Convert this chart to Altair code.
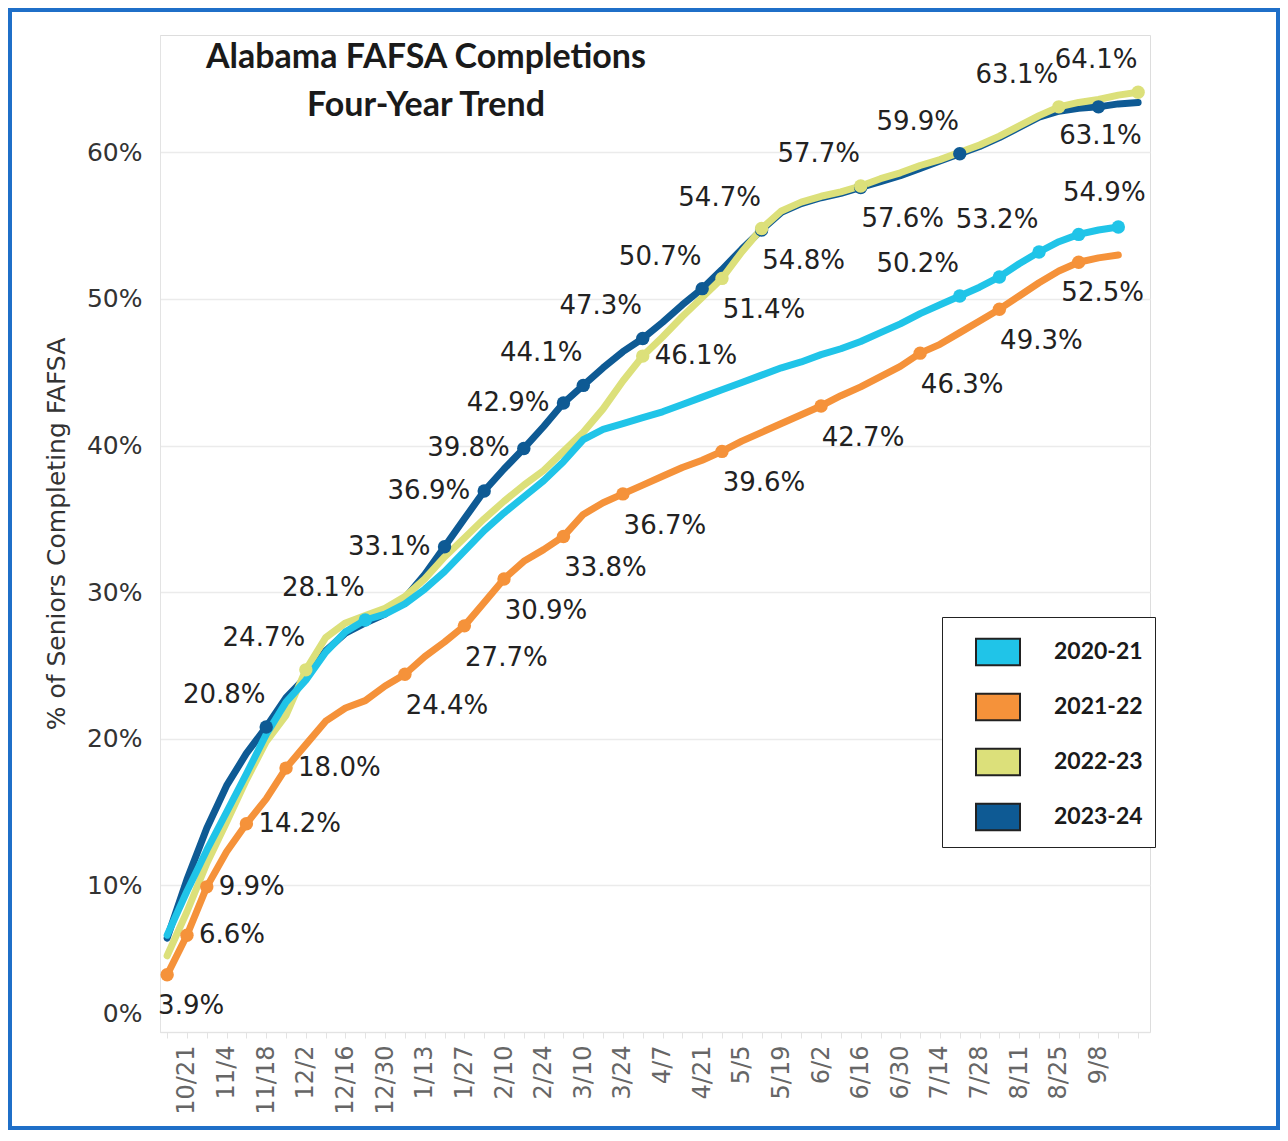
import altair as alt
import pandas as pd

# ---------------- data ----------------
series_names = ["2020-21", "2021-22", "2022-23", "2023-24"]
series_colors = ["#20C4E8", "#F5923A", "#DCE07A", "#0E5A94"]
draw_order = ["2023-24", "2022-23", "2021-22", "2020-21"]

# x axis: week index, week 0 = 10/14; labels every two weeks
tick_weeks = [1, 3, 5, 7, 9, 11, 13, 15, 17, 19, 21, 23, 25, 27, 29, 31, 33, 35, 37, 39, 41, 43, 45, 47]
tick_labels = ["10/21", "11/4", "11/18", "12/2", "12/16", "12/30", "1/13", "1/27", "2/10", "2/24",
               "3/10", "3/24", "4/7", "4/21", "5/5", "5/19", "6/2", "6/16", "6/30", "7/14",
               "7/28", "8/11", "8/25", "9/8"]
y_ticks = [0, 10, 20, 30, 40, 50, 60]

pct_2020_21 = [6.6, 9.6, 12.4, 15.0, 17.6, 20.3, 22.5, 24.0, 25.9, 27.3,
               28.1, 28.5, 29.2, 30.2, 31.4, 32.8, 34.2, 35.4, 36.5, 37.6,
               38.9, 40.4, 41.1, 41.5, 41.9, 42.3, 42.8, 43.3, 43.8, 44.3,
               44.8, 45.3, 45.7, 46.2, 46.6, 47.1, 47.7, 48.3, 49.0, 49.6,
               50.2, 50.8, 51.5, 52.4, 53.2, 53.9, 54.4, 54.7, 54.9]
pct_2021_22 = [3.9, 6.6, 9.9, 12.3, 14.2, 15.9, 18.0, 19.6, 21.2, 22.1,
               22.6, 23.6, 24.4, 25.6, 26.6, 27.7, 29.3, 30.9, 32.1, 32.9,
               33.8, 35.3, 36.1, 36.7, 37.3, 37.9, 38.5, 39.0, 39.6, 40.3,
               40.9, 41.5, 42.1, 42.7, 43.4, 44.0, 44.7, 45.4, 46.3, 46.9,
               47.7, 48.5, 49.3, 50.2, 51.1, 51.9, 52.5, 52.8, 53.0]
pct_2022_23 = [5.2, 8.2, 11.5, 14.3, 17.2, 19.8, 21.6, 24.7, 26.9, 27.9,
               28.4, 28.9, 29.7, 30.9, 32.4, 33.7, 35.0, 36.2, 37.3, 38.3,
               39.6, 40.9, 42.5, 44.4, 46.1, 47.4, 48.8, 50.1, 51.4, 53.2,
               54.8, 56.0, 56.6, 57.0, 57.3, 57.7, 58.2, 58.6, 59.1, 59.5,
               60.0, 60.5, 61.1, 61.8, 62.5, 63.1, 63.4, 63.6, 63.9, 64.1]
pct_2023_24 = [6.4, 10.4, 13.9, 16.8, 19.0, 20.8, 22.8, 24.2, 26.0, 27.2,
               27.9, 28.5, 29.6, 31.2, 33.1, 35.0, 36.9, 38.4, 39.8, 41.3,
               42.9, 44.1, 45.3, 46.4, 47.3, 48.4, 49.6, 50.7, 52.0, 53.4,
               54.7, 55.9, 56.5, 56.9, 57.2, 57.6, 58.0, 58.4, 58.9, 59.4,
               59.9, 60.4, 61.0, 61.7, 62.4, 62.8, 63.0, 63.1, 63.3, 63.4]

# labelled points (series, week index), grouped by where the label sits
label_groups = {
    "above_left": [("2023-24", 5), ("2023-24", 21), ("2023-24", 24), ("2023-24", 27),
                   ("2023-24", 30), ("2023-24", 40), ("2022-23", 7), ("2022-23", 35),
                   ("2022-23", 45), ("2022-23", 49), ("2020-21", 10), ("2020-21", 40),
                   ("2020-21", 44)],
    "above": [("2020-21", 48)],
    "left": [("2023-24", 14), ("2023-24", 16), ("2023-24", 18), ("2023-24", 20)],
    "right": [("2021-22", 1), ("2021-22", 2), ("2021-22", 4), ("2021-22", 6), ("2022-23", 24)],
    "below_right": [("2021-22", 12), ("2021-22", 15), ("2021-22", 17), ("2021-22", 20),
                    ("2021-22", 23), ("2021-22", 28), ("2021-22", 33), ("2021-22", 38),
                    ("2021-22", 42), ("2022-23", 28), ("2022-23", 30), ("2023-24", 35)],
    "below_right_small": [("2021-22", 0), ("2021-22", 46)],
    "below": [("2023-24", 47)],
}
extra_dots = [("2020-21", 42), ("2020-21", 46)]

# ---------------- tables ----------------
rows = []
for name, vals in zip(series_names, [pct_2020_21, pct_2021_22, pct_2022_23, pct_2023_24]):
    for w, v in enumerate(vals):
        rows.append({"series": name, "week": w, "pct": v})
df = pd.DataFrame(rows)
lookup = {(r.series, r.week): r.pct for r in df.itertuples()}

dot_keys = [k for g in label_groups.values() for k in g] + extra_dots
dot_keys.sort(key=lambda k: draw_order.index(k[0]))
dots = pd.DataFrame([{"series": s, "week": w, "pct": lookup[(s, w)]} for s, w in dot_keys])

# ---------------- styling ----------------
placement = {
    "above_left": dict(dx=-42, dy=-32, align="center"),
    "above": dict(dx=-14, dy=-34, align="center"),
    "left": dict(dx=-14, dy=0, align="right"),
    "right": dict(dx=12, dy=0, align="left"),
    "below_right": dict(dx=42, dy=32, align="center"),
    "below_right_small": dict(dx=24, dy=31, align="center"),
    "below": dict(dx=2, dy=29, align="center"),
}

week_label_array = [""] * 50
for w, lab in zip(tick_weeks, tick_labels):
    week_label_array[w] = lab
label_expr = "[" + ",".join("'" + s + "'" for s in week_label_array) + "][datum.value] || ''"

color_scale = alt.Scale(domain=series_names, range=series_colors)

x_axis = alt.Axis(
    values=list(range(50)), labelExpr=label_expr, labelAngle=270, labelOverlap=False,
    labelFont="DejaVu Sans", labelFontSize=24, labelColor="#666666", labelPadding=7,
    ticks=True, tickColor="#e3e3e3", tickSize=6, domainColor="#e3e3e3", grid=False, title=None,
)
y_axis = alt.Axis(
    values=y_ticks, labelExpr="datum.value + '%'", grid=True, gridColor="#ebebeb", gridWidth=1.5,
    ticks=False, domain=True, domainColor="#e3e3e3",
    labelFont="DejaVu Sans", labelFontSize=25, labelColor="#333333", labelPadding=18,
    labelOffset={"condition": {"test": "datum.value === 0", "value": -19}, "value": 0},
    title="% of Seniors Completing FAFSA", titleFont="DejaVu Sans", titleFontSize=25,
    titleFontWeight="normal", titleColor="#333333", titlePadding=17,
)
x_enc = alt.X("week:Q", scale=alt.Scale(domain=[-0.36, 49.6], nice=False, zero=False), axis=x_axis)
y_enc = alt.Y("pct:Q", scale=alt.Scale(domain=[0, 68], nice=False, zero=True), axis=y_axis)

layers = []

frame = alt.Chart(alt.Data(values=[{"f": 1}])).mark_rect(
    filled=False, stroke="#1F6FC8", strokeWidth=4
).encode(x=alt.value(-150), x2=alt.value(1118), y=alt.value(-25), y2=alt.value(1093))
layers.append(frame)

for s in draw_order:
    layers.append(
        alt.Chart(df[df["series"] == s]).mark_line(
            strokeWidth=7, strokeCap="round", strokeJoin="round",
            color=series_colors[series_names.index(s)]
        ).encode(x=x_enc, y=y_enc)
    )

legend = alt.Legend(
    title=None, orient="none", legendX=782, legendY=582, direction="vertical",
    symbolType="M-1,-0.6H1V0.6H-1Z", symbolSize=1936, symbolStrokeColor="#222222",
    symbolStrokeWidth=2, symbolOpacity=1, symbolOffset=21,
    labelFont="Lato", labelFontSize=23, labelFontWeight="bold", labelColor="#1a1a1a",
    labelOffset=33, padding=12, rowPadding=14, strokeColor="#222222", fillColor="white",
)
layers.append(
    alt.Chart(dots).mark_circle(size=180, opacity=1).encode(
        x=x_enc, y=y_enc, color=alt.Color("series:N", scale=color_scale, legend=legend)
    )
)

for g, keys in label_groups.items():
    t = pd.DataFrame([{"series": s, "week": w, "pct": lookup[(s, w)],
                       "label": f"{lookup[(s, w)]:.1f}%"} for s, w in keys])
    p = placement[g]
    layers.append(
        alt.Chart(t).mark_text(
            font="DejaVu Sans", fontSize=26, color="#222222", baseline="middle",
            align=p["align"], dx=p["dx"], dy=p["dy"]
        ).encode(x=x_enc, y=y_enc, text="label:N")
    )

title = alt.TitleParams(
    text=["Alabama FAFSA Completions", "Four-Year Trend"], font="Lato", fontSize=34,
    fontWeight="bold", color="#1a1a1a", anchor="middle", frame="group", orient="top",
    baseline="top", offset=-115, dx=-229, lineHeight=48,
)

chart = alt.layer(*layers).properties(
    width=990, height=997, title=title,
    padding={"left": 152, "top": 27, "right": 130, "bottom": 98},
    autosize=alt.AutoSizeParams(type="none"),
).configure_view(stroke="transparent").configure_legend(strokeWidth=2).configure(background="white")

chart.save("out.html", embed_options={"renderer": "svg", "actions": False})
